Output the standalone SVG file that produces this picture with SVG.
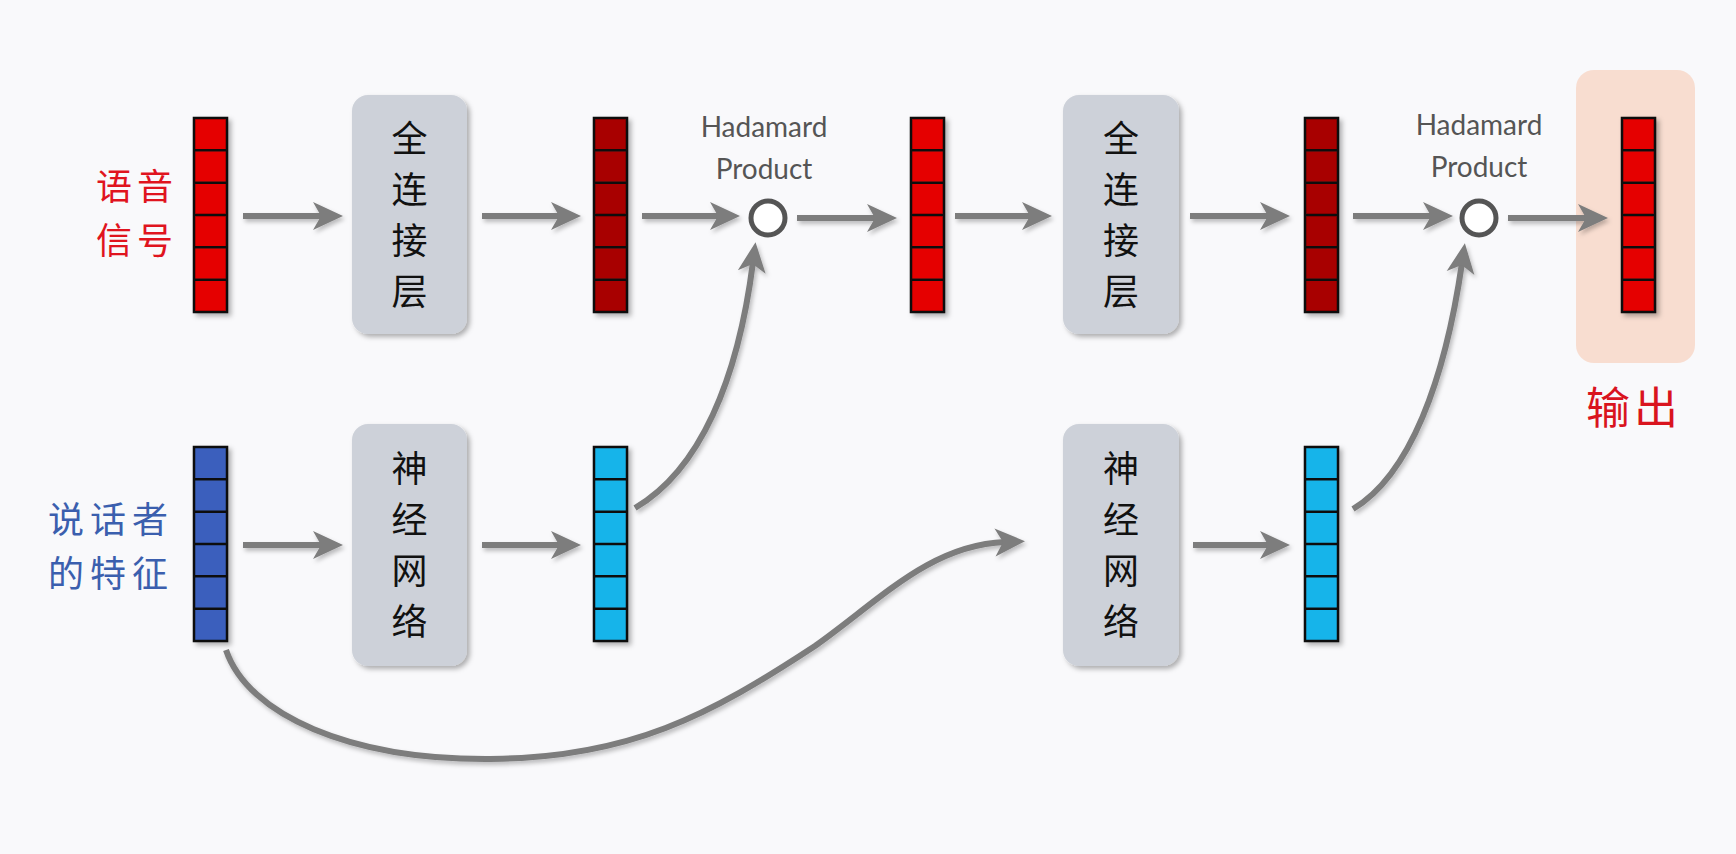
<svg xmlns="http://www.w3.org/2000/svg" xmlns:xlink="http://www.w3.org/1999/xlink" width="1736" height="854" viewBox="0 0 1736 854">
<defs>
<style>
.conn{fill:none;stroke:#7d7d7d;stroke-width:6;marker-end:url(#ah)}
.box{fill:#cdd1d9}
.boxtxt{font-family:"Noto Sans CJK SC",sans-serif;font-size:36px;fill:#111;text-anchor:middle}
.had{font-family:Lato,"Open Sans",sans-serif;font-size:28px;fill:#555;text-anchor:middle}
.lbl{font-family:"Noto Sans CJK SC",sans-serif;font-size:36px;text-anchor:middle;letter-spacing:5px}
.red{fill:#e50000}
.dred{fill:#a80000}
.blue{fill:#3a5fbd}
.cyan{fill:#14b4ea}
.grid{fill:none;stroke:#111;stroke-width:2.5}
.hc{fill:#fff;stroke:#555;stroke-width:5}
</style>
<filter id="sh" x="-30%" y="-10%" width="160%" height="130%">
<feDropShadow dx="3" dy="3" stdDeviation="2.5" flood-color="#000" flood-opacity="0.3"/>
</filter>
<filter id="ash" x="-10%" y="-50%" width="120%" height="200%">
<feDropShadow dx="2" dy="3" stdDeviation="2" flood-color="#000" flood-opacity="0.25"/>
</filter>
<marker id="ah" markerUnits="userSpaceOnUse" markerWidth="34" markerHeight="32" viewBox="0 0 34 32" refX="12" refY="16" orient="auto">
<path d="M32 16 L2 2 L10 16 L2 30 Z" fill="#7d7d7d"/>
</marker>
<g id="cells">
<rect x="0" y="0" width="33" height="194" class="grid"/>
<path d="M0 32.33H33M0 64.67H33M0 97H33M0 129.33H33M0 161.67H33" class="grid"/>
</g>
</defs>
<rect width="1736" height="854" fill="#f9f9fb"/>

<g id="out-bg"><rect x="1576" y="70" width="119" height="293" rx="18" fill="#f8ddd0"/></g>

<g id="connectors" filter="url(#ash)">
<path class="conn" d="M243 216H323"/>
<path class="conn" d="M482 216H561"/>
<path class="conn" d="M642 216H720"/>
<path class="conn" d="M797 218H877"/>
<path class="conn" d="M955 216H1032"/>
<path class="conn" d="M1190 216H1270"/>
<path class="conn" d="M1353 216H1433"/>
<path class="conn" d="M1508 218H1588"/>
<path class="conn" d="M243 545H323"/>
<path class="conn" d="M482 545H561"/>
<path class="conn" d="M1193 545H1270"/>
<path class="conn" d="M635 508 C700 470 738 380 753 262"/>
<path class="conn" d="M1353 509 C1410 475 1445 380 1462 263"/>
<path class="conn" d="M226 650 C248 715 350 760 490 759 C630 758 710 715 815 646 C880 600 930 545 1005 542"/>
</g>

<g id="label-speech"><text class="lbl" fill="#e0141e" x="137" y="200">语音</text><text class="lbl" fill="#e0141e" x="137" y="254">信号</text></g>
<g id="label-speaker"><text class="lbl" fill="#3b5fae" x="111" y="533" style="letter-spacing:6px">说话者</text><text class="lbl" fill="#3b5fae" x="111" y="587" style="letter-spacing:6px">的特征</text></g>
<g id="label-out"><text class="lbl" fill="#d9141e" x="1634" y="424" style="font-size:44px;letter-spacing:4px">输出</text></g>

<g id="v1" transform="translate(194,118)" filter="url(#sh)"><rect width="33" height="194" class="red"/><use xlink:href="#cells"/></g>
<g id="v2" transform="translate(594,118)" filter="url(#sh)"><rect width="33" height="194" class="dred"/><use xlink:href="#cells"/></g>
<g id="v3" transform="translate(911,118)" filter="url(#sh)"><rect width="33" height="194" class="red"/><use xlink:href="#cells"/></g>
<g id="v4" transform="translate(1305,118)" filter="url(#sh)"><rect width="33" height="194" class="dred"/><use xlink:href="#cells"/></g>
<g id="v5" transform="translate(1622,118)" filter="url(#sh)"><rect width="33" height="194" class="red"/><use xlink:href="#cells"/></g>
<g id="v6" transform="translate(194,447)" filter="url(#sh)"><rect width="33" height="194" class="blue"/><use xlink:href="#cells"/></g>
<g id="v7" transform="translate(594,447)" filter="url(#sh)"><rect width="33" height="194" class="cyan"/><use xlink:href="#cells"/></g>
<g id="v8" transform="translate(1305,447)" filter="url(#sh)"><rect width="33" height="194" class="cyan"/><use xlink:href="#cells"/></g>

<g id="fc1"><rect class="box" x="352" y="95" width="115" height="239" rx="16" filter="url(#sh)"/>
<text class="boxtxt" x="409.5" y="152">全</text><text class="boxtxt" x="409.5" y="203">连</text><text class="boxtxt" x="409.5" y="254">接</text><text class="boxtxt" x="409.5" y="305">层</text></g>
<g id="fc2"><rect class="box" x="1063" y="95" width="116" height="239" rx="16" filter="url(#sh)"/>
<text class="boxtxt" x="1121" y="152">全</text><text class="boxtxt" x="1121" y="203">连</text><text class="boxtxt" x="1121" y="254">接</text><text class="boxtxt" x="1121" y="305">层</text></g>
<g id="nn1"><rect class="box" x="352" y="424" width="115" height="242" rx="16" filter="url(#sh)"/>
<text class="boxtxt" x="409.5" y="482">神</text><text class="boxtxt" x="409.5" y="533">经</text><text class="boxtxt" x="409.5" y="584">网</text><text class="boxtxt" x="409.5" y="635">络</text></g>
<g id="nn2"><rect class="box" x="1063" y="424" width="116" height="242" rx="16" filter="url(#sh)"/>
<text class="boxtxt" x="1121" y="482">神</text><text class="boxtxt" x="1121" y="533">经</text><text class="boxtxt" x="1121" y="584">网</text><text class="boxtxt" x="1121" y="635">络</text></g>

<g id="h1"><circle class="hc" cx="768" cy="218" r="17"/><text class="had" x="764" y="137">Hadamard</text><text class="had" x="764" y="179">Product</text></g>
<g id="h2"><circle class="hc" cx="1479" cy="218" r="17"/><text class="had" x="1479" y="135">Hadamard</text><text class="had" x="1479" y="177">Product</text></g>
</svg>
